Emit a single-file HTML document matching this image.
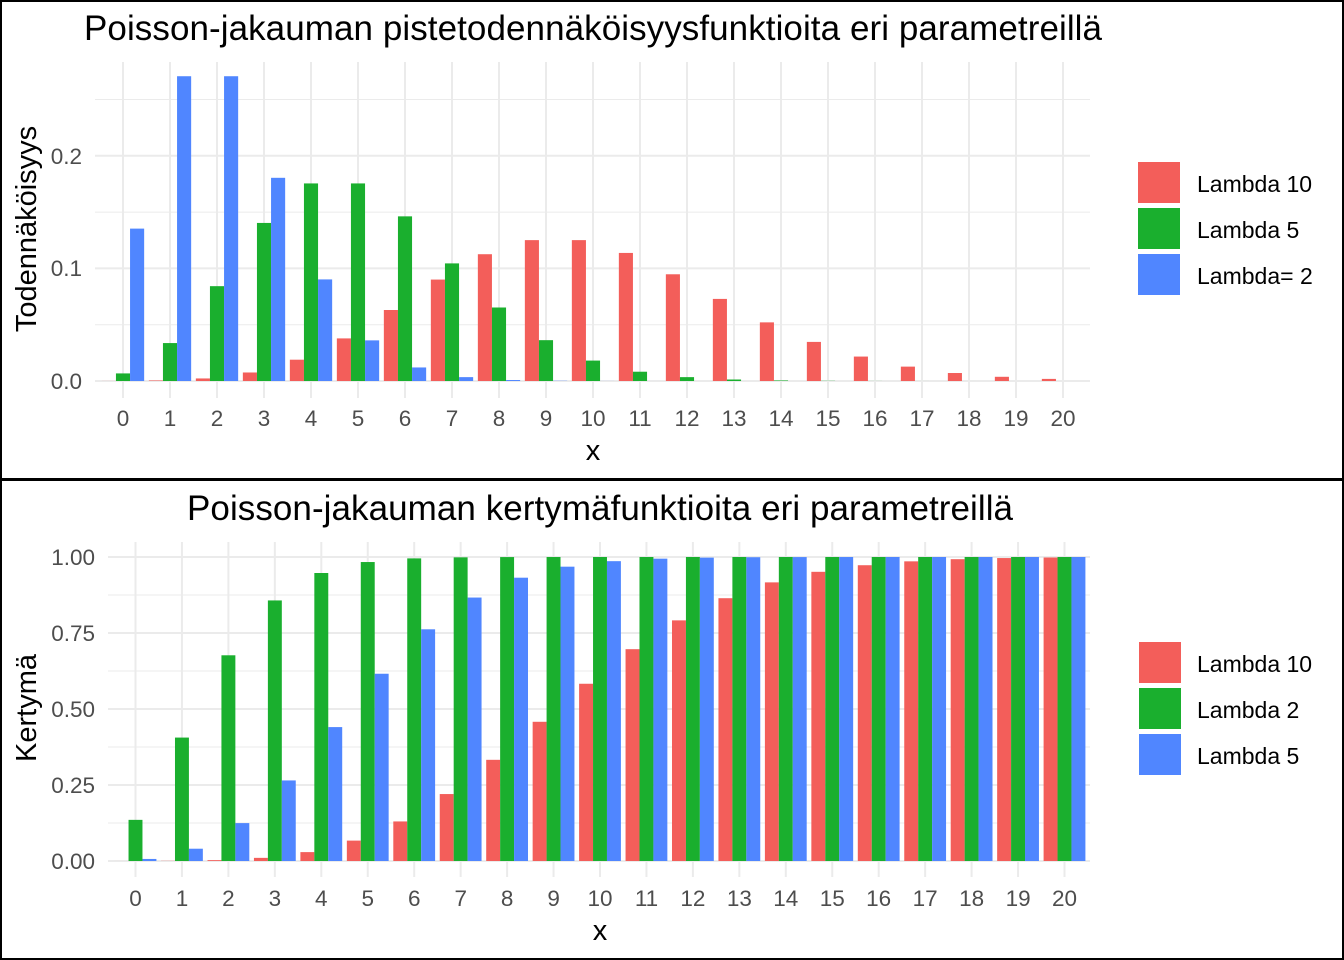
<!DOCTYPE html>
<html><head><meta charset="utf-8"><style>
body{margin:0;background:#fff;}
svg{display:block;font-family:"Liberation Sans",Arial,sans-serif;}
.tk{font-size:22.5px;fill:#4d4d4d;}
.lg{font-size:23px;fill:#000;}
.ti{font-size:35px;fill:#000;}
.ax{font-size:29px;fill:#000;}
</style></head><body>
<svg id="s" width="1344" height="960" xmlns="http://www.w3.org/2000/svg">
<rect x="0" y="0" width="1344" height="960" fill="#fff"/>
<g id="grid"></g>
<g id="bars"></g>
<rect x="1" y="1" width="1342" height="478" fill="none" stroke="#000" stroke-width="2"/>
<rect x="1" y="480" width="1342" height="479" fill="none" stroke="#000" stroke-width="2"/>
<text class="ti" x="84" y="40" textLength="1018">Poisson-jakauman pistetodennäköisyysfunktioita eri parametreillä</text>
<text class="ti" x="187" y="520" textLength="826">Poisson-jakauman kertymäfunktioita eri parametreillä</text>
<text class="ax" x="593" y="460" text-anchor="middle">x</text>
<text class="ax" x="600" y="940" text-anchor="middle">x</text>
<text class="ax" transform="translate(36,229) rotate(-90)" text-anchor="middle">Todennäköisyys</text>
<text class="ax" transform="translate(36,708) rotate(-90)" text-anchor="middle">Kertymä</text>
<g class="tk" text-anchor="end">
<text x="82" y="389">0.0</text><text x="82" y="276">0.1</text><text x="82" y="164">0.2</text>
<text x="95" y="869">0.00</text><text x="95" y="793">0.25</text><text x="95" y="717">0.50</text><text x="95" y="641">0.75</text><text x="95" y="565">1.00</text>
</g>
<g class="tk" text-anchor="middle">
<text x="123" y="426">0</text><text x="170" y="426">1</text><text x="217" y="426">2</text><text x="264" y="426">3</text><text x="311" y="426">4</text><text x="358" y="426">5</text><text x="405" y="426">6</text><text x="452" y="426">7</text><text x="499" y="426">8</text><text x="546" y="426">9</text><text x="593" y="426">10</text><text x="640" y="426">11</text><text x="687" y="426">12</text><text x="734" y="426">13</text><text x="781" y="426">14</text><text x="828" y="426">15</text><text x="875" y="426">16</text><text x="922" y="426">17</text><text x="969" y="426">18</text><text x="1016" y="426">19</text><text x="1063" y="426">20</text>
</g>
<g class="tk" text-anchor="middle">
<text x="135.5" y="906">0</text><text x="182" y="906">1</text><text x="228.4" y="906">2</text><text x="274.9" y="906">3</text><text x="321.3" y="906">4</text><text x="367.8" y="906">5</text><text x="414.2" y="906">6</text><text x="460.7" y="906">7</text><text x="507.1" y="906">8</text><text x="553.6" y="906">9</text><text x="600" y="906">10</text><text x="646.5" y="906">11</text><text x="692.9" y="906">12</text><text x="739.4" y="906">13</text><text x="785.8" y="906">14</text><text x="832.3" y="906">15</text><text x="878.7" y="906">16</text><text x="925.2" y="906">17</text><text x="971.6" y="906">18</text><text x="1018.1" y="906">19</text><text x="1064.5" y="906">20</text>
</g>
<rect x="1138" y="162" width="42" height="41" fill="#F35E5A"/>
<rect x="1138" y="208" width="42" height="41" fill="#1AAF2E"/>
<rect x="1138" y="254" width="42" height="41" fill="#5086FF"/>
<text class="lg" x="1197" y="192">Lambda 10</text>
<text class="lg" x="1197" y="238">Lambda 5</text>
<text class="lg" x="1197" y="284">Lambda= 2</text>
<rect x="1139" y="642" width="42" height="41" fill="#F35E5A"/>
<rect x="1139" y="688" width="42" height="41" fill="#1AAF2E"/>
<rect x="1139" y="734" width="42" height="41" fill="#5086FF"/>
<text class="lg" x="1197" y="672">Lambda 10</text>
<text class="lg" x="1197" y="718">Lambda 2</text>
<text class="lg" x="1197" y="764">Lambda 5</text>
</svg>
<script>
const NS="http://www.w3.org/2000/svg";
function el(p,t,a){const e=document.createElementNS(NS,t);for(const k in a)e.setAttribute(k,a[k]);p.appendChild(e);}
function fact(n){let f=1;for(let i=2;i<=n;i++)f*=i;return f;}
function pmf(l,k){return Math.exp(-l)*Math.pow(l,k)/fact(k);}
function cdf(l,k){let s=0;for(let i=0;i<=k;i++)s+=pmf(l,i);return s;}
const g=document.getElementById('grid'),b=document.getElementById('bars');
const C=["#F35E5A","#1AAF2E","#5086FF"];
{const L=95,R=1090,T=62,y0=381,sc=1126,x0=123,dx=47;
for(const v of [0.05,0.15,0.25])el(g,'line',{x1:L,x2:R,y1:y0-v*sc,y2:y0-v*sc,stroke:'#ebebeb','stroke-width':1});
for(const v of [0,0.1,0.2])el(g,'line',{x1:L,x2:R,y1:y0-v*sc,y2:y0-v*sc,stroke:'#ebebeb','stroke-width':2});
for(let k=0;k<=20;k++)el(g,'line',{x1:x0+k*dx,x2:x0+k*dx,y1:T,y2:398,stroke:'#ebebeb','stroke-width':2});
const lams=[10,5,2],w=dx*0.9/3;
for(let k=0;k<=20;k++)lams.forEach((l,i)=>{const h=pmf(l,k)*sc;const x=x0+k*dx-dx*0.45+i*w;el(b,'rect',{x:x,y:y0-h,width:w,height:h,fill:C[i]});});}
{const L=108,R=1090,T=542,y0=861,sc=304,x0=135.5,dx=46.45;
for(const v of [0.125,0.375,0.625,0.875])el(g,'line',{x1:L,x2:R,y1:y0-v*sc,y2:y0-v*sc,stroke:'#ebebeb','stroke-width':1});
for(const v of [0,0.25,0.5,0.75,1])el(g,'line',{x1:L,x2:R,y1:y0-v*sc,y2:y0-v*sc,stroke:'#ebebeb','stroke-width':2});
for(let k=0;k<=20;k++)el(g,'line',{x1:x0+k*dx,x2:x0+k*dx,y1:T,y2:877,stroke:'#ebebeb','stroke-width':2});
const lams=[10,2,5],w=dx*0.9/3;
for(let k=0;k<=20;k++)lams.forEach((l,i)=>{const h=cdf(l,k)*sc;const x=x0+k*dx-dx*0.45+i*w;el(b,'rect',{x:x,y:y0-h,width:w,height:h,fill:C[i]});});}
</script>
</body></html>
